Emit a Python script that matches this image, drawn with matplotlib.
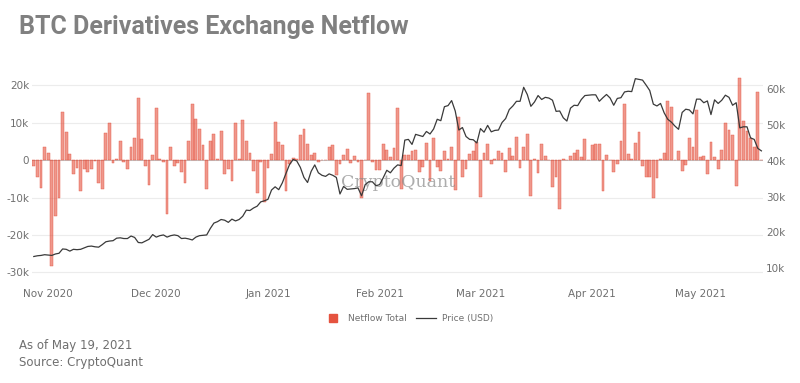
import numpy as np
import pandas as pd
import matplotlib
matplotlib.use("Agg")
import matplotlib.pyplot as plt
import matplotlib.dates as mdates
from matplotlib.lines import Line2D
from matplotlib.ticker import FuncFormatter

# daily netflow (thousands of BTC), from 2020-10-28
netflow = [
    -1.5, -4.4, -7.5, 3.6, 1.8, -28.4, -14.8, -10.1, 12.9, 7.6,
    1.6, -3.7, -2.2, -8.2, -2.4, -3.3, -2.4, -0.2, -6.0, -7.7,
    7.2, 9.9, -0.9, 0.2, 5.2, -0.4, -2.4, 3.4, 6.0, 16.5,
    5.6, -1.7, -6.6, 1.4, 13.9, 0.3, -0.6, -14.4, 3.6, -1.7,
    -0.9, -3.3, -6.0, 5.0, 14.9, 11.1, 8.3, 4.1, -7.6, 5.2,
    6.9, 0.3, 7.8, -3.6, -2.4, -5.7, 9.8, 0.2, 10.7, 5.0,
    2.0, -3.0, -8.9, -0.4, -11.3, -2.0, 1.6, 10.2, 4.9, 4.0,
    -8.3, -1.1, 0.5, 0.3, 6.8, 8.4, 4.3, 1.3, 1.8, -0.6,
    0.1, 0.1, 3.4, 4.0, -3.9, -1.1, 1.3, 2.9, -0.8, 1.2,
    -0.4, -10.0, 0.1, 17.9, -0.4, -2.6, -2.6, 4.3, 2.7, 0.7,
    3.1, 13.9, -7.7, 1.3, 1.3, 2.3, 2.8, -3.3, -1.8, 4.5,
    -5.5, 5.8, -1.8, -2.8, 2.3, 0.2, 3.4, -7.9, 11.4, -4.4,
    -2.4, 1.6, 2.5, 4.7, -9.8, 2.0, 4.4, -1.1, 0.2, 2.5,
    1.8, -3.1, 3.1, 1.2, 6.2, -2.2, 3.6, 6.9, -9.5, 0.2,
    -3.5, 4.4, 1.2, 0.1, -7.3, -4.6, -13.1, 0.4, 0.1, 1.2,
    1.9, 2.7, 0.7, 5.6, 0.1, 4.1, 4.2, 4.2, -8.2, 1.4,
    0.1, -3.1, -1.1, 5.0, 15.1, 1.6, 0.4, 4.5, 7.6, -1.5,
    -4.6, -4.6, -10.0, -4.9, 0.4, 1.8, 15.8, 14.3, 0.1, 2.3,
    -3.0, -1.2, 5.8, 3.6, 13.3, 0.9, 1.2, -3.7, 4.7, 0.9,
    -2.4, 2.7, 10.0, 8.1, 6.7, -6.8, 22.0, 10.5, 7.8, 5.8,
    3.4, 18.2, 0.0,
]

# daily BTC price (thousands of USD)
price = [
    13.3, 13.5, 13.6, 13.8, 13.7, 13.6, 14.0, 14.2, 15.4, 15.3,
    14.8, 15.3, 15.2, 15.3, 15.7, 16.1, 16.2, 16.0, 15.9, 16.6,
    17.4, 17.6, 17.7, 18.4, 18.5, 18.3, 18.3, 19.0, 18.6, 17.2,
    17.1, 17.6, 18.1, 19.4, 18.7, 19.1, 19.3, 18.7, 19.1, 19.3,
    19.1, 18.3, 18.4, 18.2, 17.9, 18.7, 19.1, 19.2, 19.3, 21.1,
    22.6, 23.0, 23.6, 23.4, 22.8, 23.7, 23.2, 23.6, 24.5, 26.2,
    26.1, 26.8, 27.3, 28.5, 28.8, 29.2, 31.8, 32.7, 31.9, 33.8,
    36.4, 38.9, 40.3, 39.9, 38.1, 35.3, 33.9, 37.0, 38.8, 36.6,
    35.9, 35.6, 36.3, 35.9, 35.3, 30.7, 32.8, 32.0, 32.1, 32.2,
    32.4, 30.2, 33.3, 34.1, 34.1, 33.0, 33.3, 35.2, 37.3, 36.6,
    37.9, 38.8, 38.6, 45.7, 45.9, 44.5, 47.3, 47.0, 46.7, 48.1,
    47.4, 48.8, 51.5, 51.1, 55.0, 55.3, 56.7, 53.8, 48.5, 49.2,
    46.7, 45.9, 45.8, 44.9, 48.9, 47.9, 49.8, 48.0, 48.4, 48.5,
    50.6, 51.7, 54.2, 55.2, 56.5, 56.5, 60.4, 58.4, 55.1, 56.3,
    58.1, 57.0, 57.6, 57.4, 56.8, 53.7, 53.8, 51.9, 51.0, 54.6,
    55.4, 55.3, 57.0, 58.1, 58.2, 58.3, 58.3, 56.5, 57.5, 58.4,
    57.4, 55.4, 57.3, 57.5, 59.1, 59.3, 59.2, 62.8, 62.6, 62.4,
    61.0, 59.5, 55.7, 55.2, 55.9, 53.3, 51.5, 50.7, 49.6, 48.7,
    53.4, 54.3, 54.1, 53.0, 57.1, 57.1, 56.1, 56.6, 52.8, 56.9,
    55.9, 56.8, 58.2, 57.6, 55.4, 56.1, 49.1, 49.4, 49.4, 46.3,
    45.9, 43.4, 42.7,
]

dates = pd.date_range("2020-10-28", periods=len(netflow), freq="D")
month_ticks = pd.date_range("2020-11-01", "2021-05-01", freq="MS")

bar_color = "#e5533f"
grey_text = "#6f6f6f"

fig = plt.figure(figsize=(8, 3.83), dpi=100)
ax = fig.add_axes([0.04, 0.274, 0.914, 0.53])
ax2 = ax.twinx()

x = mdates.date2num(dates)
ax.bar(x, np.array(netflow) * 1000, width=0.78,
       facecolor=matplotlib.colors.to_rgba(bar_color, 0.6),
       edgecolor=bar_color, linewidth=0.3, zorder=2)
ax2.plot(x, np.array(price) * 1000, color="#3a3a3a", linewidth=0.9, zorder=3)

ax.set_xlim(x[0] - 0.5, x[-1] + 0.5)
ax.set_ylim(-31500, 22700)
ax2.set_ylim(7300, 63800)

ax.set_yticks([-30000, -20000, -10000, 0, 10000, 20000])
ax2.set_yticks([10000, 20000, 30000, 40000, 50000, 60000])
kfmt = FuncFormatter(lambda v, p: "0" if v == 0 else "%dk" % round(v / 1000))
ax.yaxis.set_major_formatter(kfmt)
ax2.yaxis.set_major_formatter(kfmt)

ax.set_xticks(mdates.date2num(month_ticks))
ax.set_xticklabels([d.strftime("%b %Y") for d in month_ticks])

ax.grid(axis="y", color="#ececec", linewidth=0.8, zorder=0)
ax.set_axisbelow(True)
for a in (ax, ax2):
    for s in a.spines.values():
        s.set_visible(False)
    a.tick_params(length=0, labelsize=7.5, colors=grey_text)
ax.tick_params(axis="y", pad=2)
ax2.tick_params(axis="y", pad=2)
ax.tick_params(axis="x", pad=8)
ax.axhline(0, color="#bbbbbb", linewidth=0.6, zorder=1)

# watermark
ax.text(0.5, 0.47, "CryptoQuant", transform=ax.transAxes, ha="center",
        va="center", fontsize=12.5, family="DejaVu Serif", color="#8a8a8a",
        alpha=0.7, zorder=4)

fig.text(0.024, 0.93, "BTC Derivatives Exchange Netflow", fontsize=18,
         fontweight="bold", family="Roboto", color="#808080", va="center")

handles = [
    Line2D([], [], marker="s", linestyle="none", markersize=6,
           markerfacecolor=bar_color, markeredgecolor=bar_color),
    Line2D([], [], color="#3a3a3a", linewidth=0.9),
]
fig.legend(handles, ["Netflow Total", "Price (USD)"], loc="center",
           bbox_to_anchor=(0.51, 0.168), ncol=2, frameon=False, fontsize=6.5,
           labelcolor=grey_text, handlelength=2.2, columnspacing=1.0,
           handletextpad=0.6)

fig.text(0.024, 0.097, "As of May 19, 2021", fontsize=8.5, color=grey_text,
         va="center")
fig.text(0.024, 0.054, "Source: CryptoQuant", fontsize=8.5, color=grey_text,
         va="center")

fig.savefig("out.png", dpi=100, facecolor="white")
